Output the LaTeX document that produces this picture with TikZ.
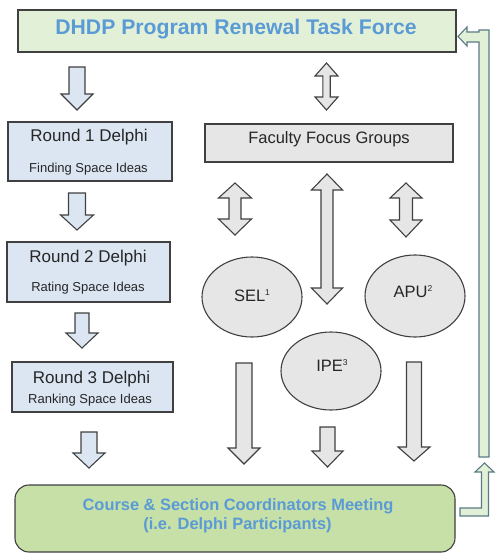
\documentclass[tikz,border=0pt]{standalone}
\usepackage{fontspec}
\setmainfont{Liberation Sans}
\usetikzlibrary{shapes.geometric}
\definecolor{lineC}{HTML}{404040}
\definecolor{tealC}{HTML}{5A7A86}
\definecolor{blueF}{HTML}{DCE6F2}
\definecolor{grayF}{HTML}{E6E6E6}
\definecolor{paleG}{HTML}{E3F0D8}
\definecolor{greenF}{HTML}{C6E0A8}
\definecolor{titleB}{HTML}{5B9BD5}
\definecolor{txtC}{HTML}{262626}
% block down arrow: style, cx, shaft half width, head half width, top, head base, tip
\newcommand{\blkdown}[7]{\draw[#1] (#2-#3,#5) -- (#2+#3,#5) -- (#2+#3,#6) -- (#2+#4,#6) -- (#2,#7) -- (#2-#4,#6) -- (#2-#3,#6) -- cycle;}
% block double arrow: style, cx, shaft hw, head hw, top tip, top base, bottom base, bottom tip
\newcommand{\blkboth}[8]{\draw[#1] (#2,#5) -- (#2+#4,#6) -- (#2+#3,#6) -- (#2+#3,#7) -- (#2+#4,#7) -- (#2,#8) -- (#2-#4,#7) -- (#2-#3,#7) -- (#2-#3,#6) -- (#2-#4,#6) -- cycle;}
\newcommand{\tinysup}[1]{\raisebox{6pt}{\fontsize{8.5}{9}\selectfont #1}}
\begin{document}
\begin{tikzpicture}[x=1pt,y=-1pt,
  outl/.style={draw=lineC,line width=1.1pt,line join=miter},
  bluearr/.style={outl,fill=blueF},
  grayarr/.style={outl,fill=grayF},
  greenarr/.style={draw=tealC,line width=1.1pt,fill=paleG},
  bluebox/.style={outl,fill=blueF,rectangle,inner sep=0pt},
  graybox/.style={outl,fill=grayF,rectangle,inner sep=0pt},
  oval/.style={outl,fill=grayF,ellipse,inner sep=0pt,minimum width=100pt},
  maintxt/.style={anchor=base,text=txtC,font=\fontsize{17}{20}\selectfont,inner sep=0pt},
  subtxt/.style={anchor=base,text=txtC,font=\fontsize{13}{15}\selectfont,inner sep=0pt},
  bluetxt/.style={anchor=base,text=titleB,inner sep=0pt}]
\useasboundingbox (0,0) rectangle (495,556);

% top box
\node[outl,fill=paleG,rectangle,minimum width=438pt,minimum height=42pt,inner sep=0pt] (top) at (237,31) {};
\node[bluetxt,font=\bfseries\fontsize{21.2}{24}\selectfont] (toptxt) at (236,35) {DHDP Program Renewal Task Force};

% left column boxes
\node[bluebox,minimum width=164pt,minimum height=59pt] (r1) at (90,151.5) {};
\node[maintxt] (r1t) at (89,142) {Round 1 Delphi};
\node[subtxt] (r1s) at (88.5,172) {Finding Space Ideas};
\node[bluebox,minimum width=163pt,minimum height=60pt] (r2) at (88.5,272) {};
\node[maintxt] (r2t) at (88,262) {Round 2 Delphi};
\node[subtxt] (r2s) at (88,291) {Rating Space Ideas};
\node[bluebox,minimum width=161pt,minimum height=50pt] (r3) at (92.5,387) {};
\node[maintxt] (r3t) at (91.5,383) {Round 3 Delphi};
\node[subtxt] (r3s) at (90,403) {Ranking Space Ideas};

% left arrows
\blkdown{bluearr}{77}{8}{16}{67}{94}{110}
\blkdown{bluearr}{77}{8.5}{16.5}{193}{215}{230}
\blkdown{bluearr}{82}{7}{16}{313}{333}{348}
\blkdown{bluearr}{89}{8}{16}{432}{453}{468}

% faculty focus groups
\node[graybox,minimum width=248pt,minimum height=38pt] (ffg) at (329,143) {};
\node[maintxt,font=\fontsize{16.5}{20}\selectfont] (ffgt) at (329,144) {Faculty Focus Groups};

% double arrows
\blkboth{grayarr}{326.5}{3.7}{11.5}{63}{76}{97}{110}
\blkboth{grayarr}{235}{6}{16.5}{183}{198}{219}{235}
\blkboth{grayarr}{327}{6}{15.5}{174}{190}{288}{304}
\blkboth{grayarr}{406}{6.5}{16}{183}{198}{220}{237}

% ellipses
\node[oval,minimum height=80pt] (sel) at (252,297) {};
\node[maintxt,font=\fontsize{16.5}{20}\selectfont] (selt) at (252,301.5) {SEL\tinysup{1}};
\node[oval,minimum height=82pt] (apu) at (415,296) {};
\node[maintxt,font=\fontsize{16.5}{20}\selectfont] (aput) at (413,297) {APU\tinysup{2}};
\node[oval,minimum height=78pt] (ipe) at (331,371) {};
\node[maintxt,font=\fontsize{16.5}{20}\selectfont] (ipet) at (332,371.5) {IPE\tinysup{3}};

% down arrows middle
\blkdown{grayarr}{244}{8}{16}{363}{448}{464}
\blkdown{grayarr}{327.5}{7.5}{15.5}{427}{451}{467}
\blkdown{grayarr}{414}{7.5}{16}{362}{447}{461}

% bottom box
\node[outl,fill=greenF,rectangle,rounded corners=14pt,minimum width=440pt,minimum height=67pt,inner sep=0pt] (bot) at (235,518.5) {};
\node[bluetxt,font=\bfseries\fontsize{16.4}{19}\selectfont] (bott1) at (238,510) {Course \& Section Coordinators Meeting};
\node[bluetxt,font=\bfseries\fontsize{16.4}{19}\selectfont] (bott2) at (237.5,529) {(i.e. Delphi Participants)};

% right feedback elbows
\draw[greenarr] (458,36.5) -- (467,27) -- (467,32) -- (479,32) -- (479,30) -- (489,30) -- (489,457) -- (479,457) -- (479,42) -- (467,42) -- (467,46) -- cycle;
\draw[greenarr] (460,508) -- (481.5,508) -- (481.5,472) -- (475,472) -- (484.5,463) -- (494,472) -- (488.5,472) -- (488.5,516) -- (460,516) -- cycle;
\end{tikzpicture}
\end{document}
